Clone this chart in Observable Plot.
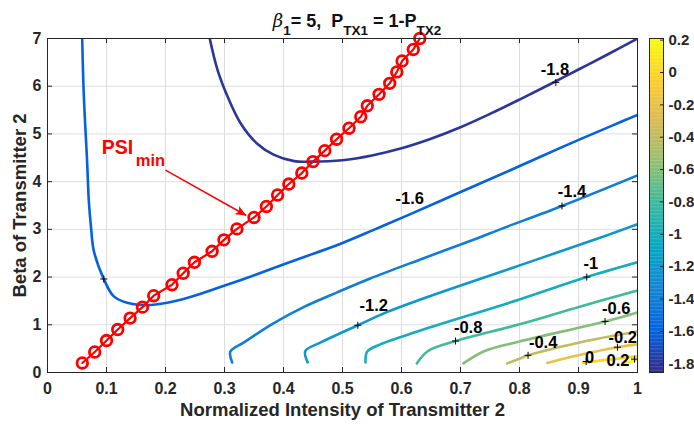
<!DOCTYPE html>
<html><head><meta charset="utf-8">
<script src="https://cdn.jsdelivr.net/npm/d3@7"></script>
<script src="https://cdn.jsdelivr.net/npm/@observablehq/plot@0.6"></script>
<style>
body{margin:0;background:#fff;}
#wrap{position:relative;width:694px;height:425px;font-family:"Liberation Sans",Arial,sans-serif;font-weight:bold;color:#000;overflow:hidden;}
#wrap svg{position:absolute;left:0;top:0;}
#title{position:absolute;top:12px;left:10px;width:694px;text-align:center;font-size:18px;line-height:18px;z-index:5;white-space:nowrap;color:#111;}
#title .sb{position:relative;top:8px;font-size:13.5px;}
#title i{font-family:"DejaVu Serif",serif;font-weight:normal;}
</style></head><body>
<div id="wrap"><div id="title"><i>β</i><span class="sb">1</span>= 5,&nbsp; P<span class="sb">TX1</span> = 1-P<span class="sb">TX2</span></div></div>
<script>
// ---- data ----
const xTicks = [0, 0.1, 0.2, 0.3, 0.4, 0.5, 0.6, 0.7, 0.8, 0.9, 1];
const yTicks = [0, 1, 2, 3, 4, 5, 6, 7];
const cbTicks = [-1.8, -1.6, -1.4, -1.2, -1, -0.8, -0.6, -0.4, -0.2, 0, 0.2];
const cbLimits = [-1.854, 0.21];
const xLabel = "Normalized Intensity of Transmitter 2";
const yLabel = "Beta of Transmitter 2";

// contour lines [x, y]
const cM18 = [[0.275,7.0],[0.288,6.35],[0.305,5.79],[0.327,5.23],[0.355,4.80],[0.384,4.56],[0.418,4.43],[0.446,4.42],[0.50,4.45],[0.55,4.55],[0.60,4.70],[0.65,4.90],[0.70,5.14],[0.75,5.42],[0.80,5.72],[0.85,6.03],[0.90,6.35],[0.95,6.67],[1.0,7.0]];
const cM16 = [[0.0588,7.0],[0.0616,5.79],[0.0673,4.38],[0.070,3.6],[0.074,3.01],[0.0785,2.55],[0.0954,1.96],[0.112,1.60],[0.135,1.46],[0.169,1.41],[0.203,1.46],[0.242,1.58],[0.293,1.79],[0.355,2.06],[0.41,2.31],[0.497,2.70],[0.553,2.99],[0.615,3.32],[0.705,3.81],[0.79,4.27],[0.875,4.74],[0.96,5.19],[1.0,5.40]];
const cM14 = [[0.313,0.21],[0.31,0.44],[0.333,0.63],[0.38,1.01],[0.434,1.37],[0.491,1.68],[0.547,1.97],[0.632,2.37],[0.73,2.82],[0.767,3.0],[0.872,3.49],[1.0,4.13]];
const cM12 = [[0.441,0.21],[0.437,0.45],[0.463,0.63],[0.526,0.99],[0.576,1.27],[0.632,1.53],[0.78,2.16],[0.924,2.77],[1.0,3.11]];
const cM10 = [[0.539,0.21],[0.542,0.44],[0.564,0.59],[0.632,0.88],[0.80,1.53],[0.914,2.0],[1.0,2.31]];
const cM08 = [[0.626,0.19],[0.645,0.45],[0.6915,0.66],[0.80,1.01],[0.902,1.38],[1.0,1.72]];
const cM06 = [[0.705,0.19],[0.741,0.45],[0.80,0.65],[0.945,1.07],[1.0,1.26]];
const cM04 = [[0.779,0.19],[0.80,0.29],[0.8145,0.36],[0.902,0.63],[1.0,0.86]];
const cM02 = [[0.847,0.20],[0.885,0.32],[0.925,0.43],[0.966,0.53],[1.0,0.59]];
const c00 = [[0.908,0.20],[0.95,0.27],[1.0,0.34]];
const c02 = [[0.978,0.20],[1.0,0.26]];
const contourLevels = [-1.8, -1.6, -1.4, -1.2, -1, -0.8, -0.6, -0.4, -0.2, 0, 0.2];
const contourPaths = [cM18, cM16, cM14, cM12, cM10, cM08, cM06, cM04, cM02, c00, c02];

// contour labels
const labelText = ["-1.8", "-1.6", "-1.4", "-1.2", "-1", "-0.8", "-0.6", "-0.4", "-0.2", "0", "0.2"];
const labelX = [0.860, 0.614, 0.889, 0.553, 0.921, 0.713, 0.964, 0.840, 0.975, 0.919, 0.967];
const labelY = [6.35, 3.65, 3.79, 1.40, 2.29, 0.94, 1.33, 0.63, 0.73, 0.31, 0.24];
const plusX = [0.8616, 0.0954, 0.872, 0.526, 0.914, 0.6915, 0.945, 0.8145, 0.966, 0.913, 0.995];
const plusY = [6.08, 1.96, 3.49, 0.99, 2.0, 0.66, 1.07, 0.36, 0.53, 0.23, 0.28];

// PSI_min curve
const psiX = [0.059,0.080,0.100,0.119,0.140,0.161,0.180,0.211,0.230,0.249,0.279,0.299,0.321,0.350,0.371,0.390,0.409,0.431,0.450,0.470,0.490,0.511,0.531,0.542,0.562,0.580,0.592,0.601,0.620,0.631];
const psiY = [0.2,0.43,0.67,0.9,1.14,1.37,1.61,1.84,2.08,2.31,2.54,2.78,3.01,3.25,3.48,3.72,3.95,4.18,4.42,4.65,4.89,5.12,5.36,5.59,5.83,6.06,6.30,6.53,6.77,7.0];

// annotation
const annotText = ["PSI", "min"];
const annotX = [0.1186, 0.1746];
const annotY = [4.705, 4.43];
const annotSize = [19.5, 16.5];
const arrowFrom = [0.200, 4.24];
const arrowTo = [0.337, 3.29];

// ---- layout ----
const W = 694, H = 425;
const M = {left: 47, right: 57, top: 38, bottom: 53};
const PW = W - M.left - M.right, PH = H - M.top - M.bottom;
const parula = ["#352a87","#0363e1","#1485d4","#06a7c6","#38b99e","#92bf73","#d9ba56","#fcce2e","#f9fb0e"];
const colorOpts = {type: "linear", domain: parula.map((_, i) => cbLimits[0] + i * (cbLimits[1] - cbLimits[0]) / (parula.length - 1)), range: parula};
const font = {fontFamily: "'Liberation Sans', Arial, sans-serif", fontWeight: "bold", fontSize: "16px", background: "transparent", overflow: "visible"};
const axisColor = "#262626";

const contourRows = contourLevels.flatMap((level, i) => contourPaths[i].map(([x, y]) => ({level, x, y})));
const labelRows = labelText.map((t, i) => ({t, x: labelX[i], y: labelY[i]}));
const plusRows = plusX.map((x, i) => ({x, y: plusY[i]}));
const psiRows = psiX.map((x, i) => ({x, y: psiY[i]}));
const annotRows = annotText.map((t, i) => ({t, x: annotX[i], y: annotY[i], s: annotSize[i]}));
const arrowRows = [{x1: arrowFrom[0], y1: arrowFrom[1], x2: arrowTo[0], y2: arrowTo[1]}];
const arrowAngle = Math.atan2((arrowFrom[1] - arrowTo[1]) * PH / 7, (arrowTo[0] - arrowFrom[0]) * PW) * 180 / Math.PI;

const plusSymbol = {draw(ctx, size) { const r = Math.sqrt(size / Math.PI); ctx.moveTo(-r, 0); ctx.lineTo(r, 0); ctx.moveTo(0, -r); ctx.lineTo(0, r); }};
const headSymbol = {draw(ctx, size) { const r = Math.sqrt(size / Math.PI); ctx.moveTo(0, 0); ctx.lineTo(-r, -r * 0.42); ctx.lineTo(-r * 0.75, 0); ctx.lineTo(-r, r * 0.42); ctx.closePath(); }};

const main = Plot.plot({
  width: W, height: H,
  marginLeft: M.left, marginRight: M.right, marginTop: M.top, marginBottom: M.bottom,
  style: font,
  x: {domain: [0, 1]},
  y: {domain: [0, 7]},
  color: colorOpts,
  marks: [
    Plot.gridX(xTicks, {stroke: "#dedede", strokeOpacity: 1}),
    Plot.gridY(yTicks, {stroke: "#dedede", strokeOpacity: 1}),
    Plot.line(contourRows, {x: "x", y: "y", z: "level", stroke: "level", strokeWidth: 2.6, curve: "catmull-rom", clip: true}),
    Plot.line(psiRows, {x: "x", y: "y", stroke: "#ff0000", strokeWidth: 2.2}),
    Plot.dot(psiRows, {x: "x", y: "y", r: 5.3, stroke: "#ff0000", strokeWidth: 2.8, fill: "none"}),
    Plot.dot(plusRows, {x: "x", y: "y", r: 3.5, symbol: plusSymbol, stroke: "black", strokeWidth: 1, fill: "none"}),
    Plot.text(labelRows, {x: "x", y: "y", text: "t", fill: "black", fontSize: 16.5}),
    Plot.link(arrowRows, {x1: "x1", y1: "y1", x2: "x2", y2: "y2", stroke: "#ff0000", strokeWidth: 1.5}),
    Plot.dot(arrowRows, {x: "x2", y: "y2", r: 11, symbol: headSymbol, fill: "#ff0000", stroke: "none", rotate: arrowAngle}),
    Plot.text(annotRows, {x: "x", y: "y", text: "t", fill: "#ff0000", fontSize: "s"}),
    Plot.frame({stroke: axisColor}),
    Plot.tickX(xTicks, {x: d => d, insetTop: PH - 5, stroke: axisColor}),
    Plot.tickX(xTicks, {x: d => d, insetBottom: PH - 5, stroke: axisColor}),
    Plot.tickY(yTicks, {y: d => d, insetRight: PW - 5, stroke: axisColor}),
    Plot.tickY(yTicks, {y: d => d, insetLeft: PW - 5, stroke: axisColor}),
    Plot.axisX(xTicks, {tickSize: 0, tickPadding: 10, tickFormat: d => String(d), label: null, color: axisColor, fontSize: 16}),
    Plot.axisY(yTicks, {tickSize: 0, tickPadding: 6, tickFormat: d => String(d), label: null, color: axisColor, fontSize: 16}),
    Plot.text([xLabel], {text: d => d, frameAnchor: "bottom", lineAnchor: "middle", textAnchor: "middle", dy: 38, fontSize: 18.5, fill: axisColor}),
    Plot.text([yLabel], {text: d => d, frameAnchor: "left", lineAnchor: "middle", textAnchor: "middle", dx: -27, rotate: -90, fontSize: 18.5, fill: axisColor})
  ]
});

const cbN = 240;
const cbStep = (cbLimits[1] - cbLimits[0]) / cbN;
const cbCells = d3.range(cbN).map(i => cbLimits[0] + (i + 0.5) * cbStep);
const cb = Plot.plot({
  width: W, height: H,
  marginLeft: 649, marginRight: 31, marginTop: 38, marginBottom: 53,
  style: font,
  x: {domain: [0, 1], axis: null},
  y: {domain: cbLimits, axis: null},
  color: colorOpts,
  marks: [
    Plot.rect(cbCells, {x1: 0, x2: 1, y1: d => d - cbStep * 0.6, y2: d => d + cbStep * 0.6, fill: d => d}),
    Plot.tickY(cbTicks, {y: d => d, insetLeft: 11, stroke: axisColor}),
    Plot.frame({stroke: axisColor}),
    Plot.axisY(cbTicks, {anchor: "right", tickSize: 0, tickPadding: 5, tickFormat: d => String(d), label: null, color: axisColor, fontSize: 15})
  ]
});

const wrap = document.getElementById("wrap");
wrap.insertBefore(main, wrap.firstChild);
wrap.insertBefore(cb, main.nextSibling);
</script>
</body></html>
